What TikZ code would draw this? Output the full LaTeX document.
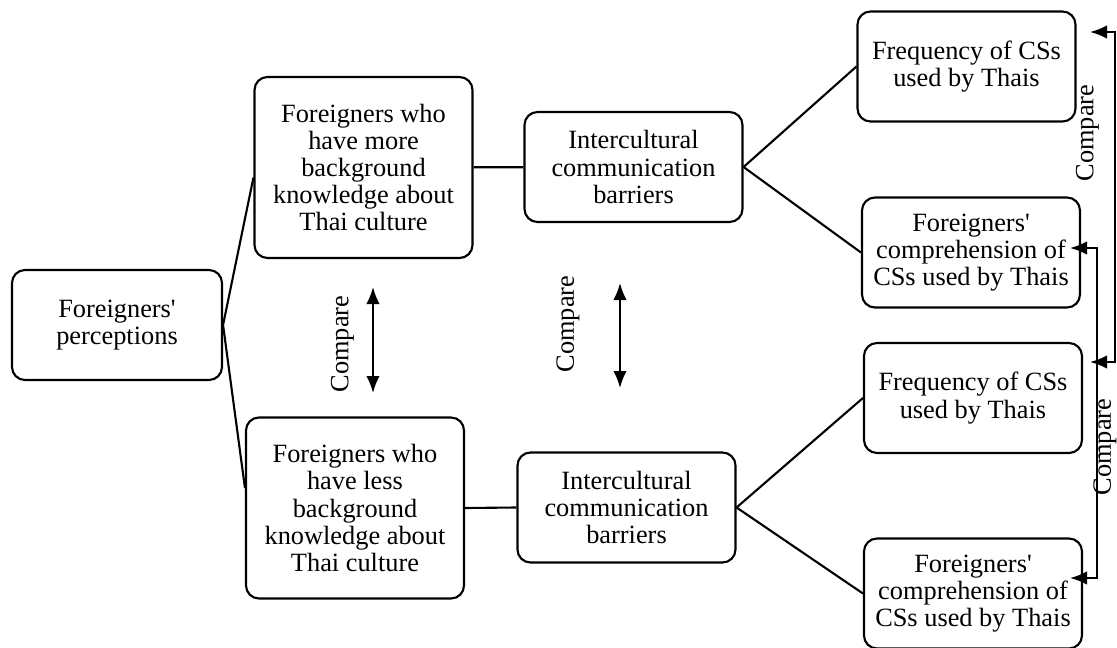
\documentclass[tikz,border=0pt]{standalone}
\usepackage{fontspec}
\setmainfont{Liberation Serif}
\usetikzlibrary{arrows.meta}

\begin{document}
\begin{tikzpicture}[
    box/.style={rectangle,draw,rounded corners=2.6mm,line width=1.2pt,align=center,inner sep=1pt,minimum width=4.36cm},
    big/.style={box,minimum height=3.62cm},
    small/.style={box,minimum height=2.2cm},
    cmp/.style={rotate=90,inner sep=0pt},
    link/.style={line width=1.2pt},
    both/.style={line width=1.2pt,{Latex[length=3.4mm,width=2.7mm]}-{Latex[length=3.4mm,width=2.7mm]}},
    font=\fontsize{15pt}{15.5pt}\selectfont
    ]

    \useasboundingbox (0,0) rectangle (22.34,-12.96);

    % left box:
    \node (perc) at (2.34,-6.5) [box,minimum width=4.2cm,minimum height=2.2cm] {Foreigners\textquotesingle\\perceptions};

    % background groups:
    \node (more) at (7.27,-3.35) [big] {Foreigners who\\have more\\background\\knowledge about\\Thai culture};
    \node (less) at (7.1,-10.16) [big] {Foreigners who\\have less\\background\\knowledge about\\Thai culture};

    % barriers:
    \node (ic1) at (12.67,-3.34) [small] {Intercultural\\communication\\barriers};
    \node (ic2) at (12.53,-10.15) [small] {Intercultural\\communication\\barriers};

    % right boxes:
    \foreach \i/\yf/\yc/\xf/\xc in {1/-1.33/-5.05/19.33/19.42, 2/-7.96/-11.87/19.46/19.46} {
      \node (f\i) at (\xf,\yf) [small] {Frequency of CSs\\used by Thais};
      \node (c\i) at (\xc,\yc) [small] {Foreigners\textquotesingle\\comprehension of\\CSs used by Thais};
    }

    \draw [link] (perc.east) -- ([yshift=-2mm]more.west);
    \draw [link] (perc.east) -- ([yshift=4mm]less.west);
    \draw [link] (more) -- (ic1);
    \draw [link] (less.east) -- (ic2.west);

    \foreach \i in {1,2} {
      \draw [link] (ic\i.east) -- (f\i.west);
      \draw [link] (ic\i.east) -- (c\i.west);
    }

    % compare arrows in the middle:
    \coordinate (m1a) at (7.46,-5.74);
    \coordinate (m1b) at (7.46,-7.86);
    \coordinate (m2a) at (12.4,-5.66);
    \coordinate (m2b) at (12.4,-7.76);
    \draw [both] (m1a) -- (m1b);
    \draw [both] (m2a) -- (m2b);
    \node (cmp1) at (6.85,-6.88) [cmp] {Compare};
    \node (cmp2) at (11.36,-6.48) [cmp] {Compare};

    % compare arrows on the right:
    \coordinate (ft1) at (21.8,-0.64);
    \coordinate (ft2) at (21.8,-7.24);
    \coordinate (ct1) at (21.4,-4.96);
    \coordinate (ct2) at (21.4,-11.56);
    \draw [both] (ft1) -- ++(0.5,0) |- (ft2);
    \draw [both] (ct1) -- ++(0.54,0) |- (ct2);
    \node (cmp3) at (21.75,-2.66) [cmp] {Compare};
    \node (cmp4) at (22.1,-8.94) [cmp] {Compare};

\end{tikzpicture}
\end{document}
